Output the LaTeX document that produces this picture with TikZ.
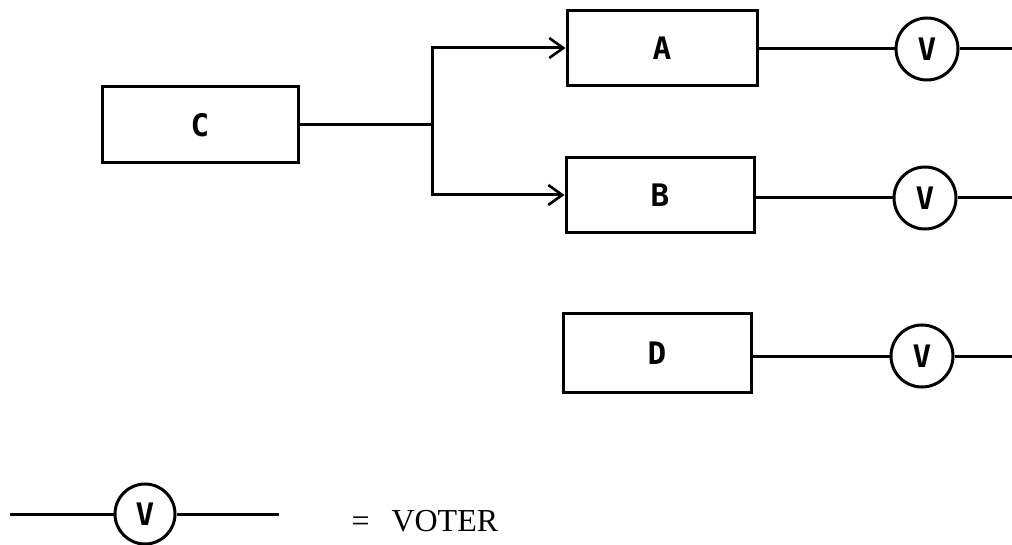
\documentclass[tikz,border=0pt]{standalone}
\usepackage{fontspec}
\setmainfont{Liberation Serif}
\newfontfamily\boxfont{DejaVu Sans Mono}
\usetikzlibrary{arrows.meta}
\begin{document}
\begin{tikzpicture}[x=1pt,y=-1pt,
  line width=3pt,
  unit/.style={draw, rectangle, line width=3pt, inner sep=0pt, font=\boxfont\bfseries\fontsize{31}{31}\selectfont},
  voter/.style={draw, circle, line width=3pt, minimum size=62pt, inner sep=0pt, font=\boxfont\bfseries\fontsize{31}{31}\selectfont},
  wire/.style={line width=3pt},
  feed/.style={line width=3pt, -{Straight Barb[length=14pt,width=20pt,line width=2.6pt]}}
]
\useasboundingbox (0,0) rectangle (1012,545);
% boxes
\node[unit, minimum width=196pt, minimum height=76pt] (C) at (200,125) {C};
\node[unit, minimum width=190pt, minimum height=75pt] (A) at (662,48) {A};
\node[unit, minimum width=188pt, minimum height=75pt] (B) at (660,195) {B};
\node[unit, minimum width=188pt, minimum height=78pt] (D) at (657,353) {D};
% voters
\node[voter] (vA) at (927,49) {V};
\node[voter] (vB) at (925,198) {V};
\node[voter] (vD) at (922,356) {V};
\coordinate (oA) at (1014,49);
\coordinate (oB) at (1014,198);
\coordinate (oD) at (1014,356);
% fan-out
\coordinate (j) at (432,125);
\coordinate (jA) at (432,48);
\coordinate (jB) at (432,195);
\draw[wire] (C.east) -- (j);
\draw[wire, line cap=rect] (jA) -- (jB);
\draw[feed] (jA) -- (A.west);
\draw[feed] (jB) -- (B.west);
% outputs
\draw[wire] (A.east |- vA) -- (vA.west);
\draw[wire] (vA.east) -- (oA);
\draw[wire] (B.east |- vB) -- (vB.west);
\draw[wire] (vB.east) -- (oB);
\draw[wire] (D.east |- vD) -- (vD.west);
\draw[wire] (vD.east) -- (oD);
% legend
\node[voter, minimum size=60pt] (vL) at (145,514) {V};
\coordinate (lL) at (10,514);
\coordinate (lR) at (279,514);
\draw[wire] (lL) -- (vL.west);
\draw[wire] (vL.east) -- (lR);
\node[anchor=west, font=\fontsize{32}{32}\selectfont, inner sep=0pt] (leg) at (350,521) {=\hspace{22pt}VOTER};
\end{tikzpicture}
\end{document}
